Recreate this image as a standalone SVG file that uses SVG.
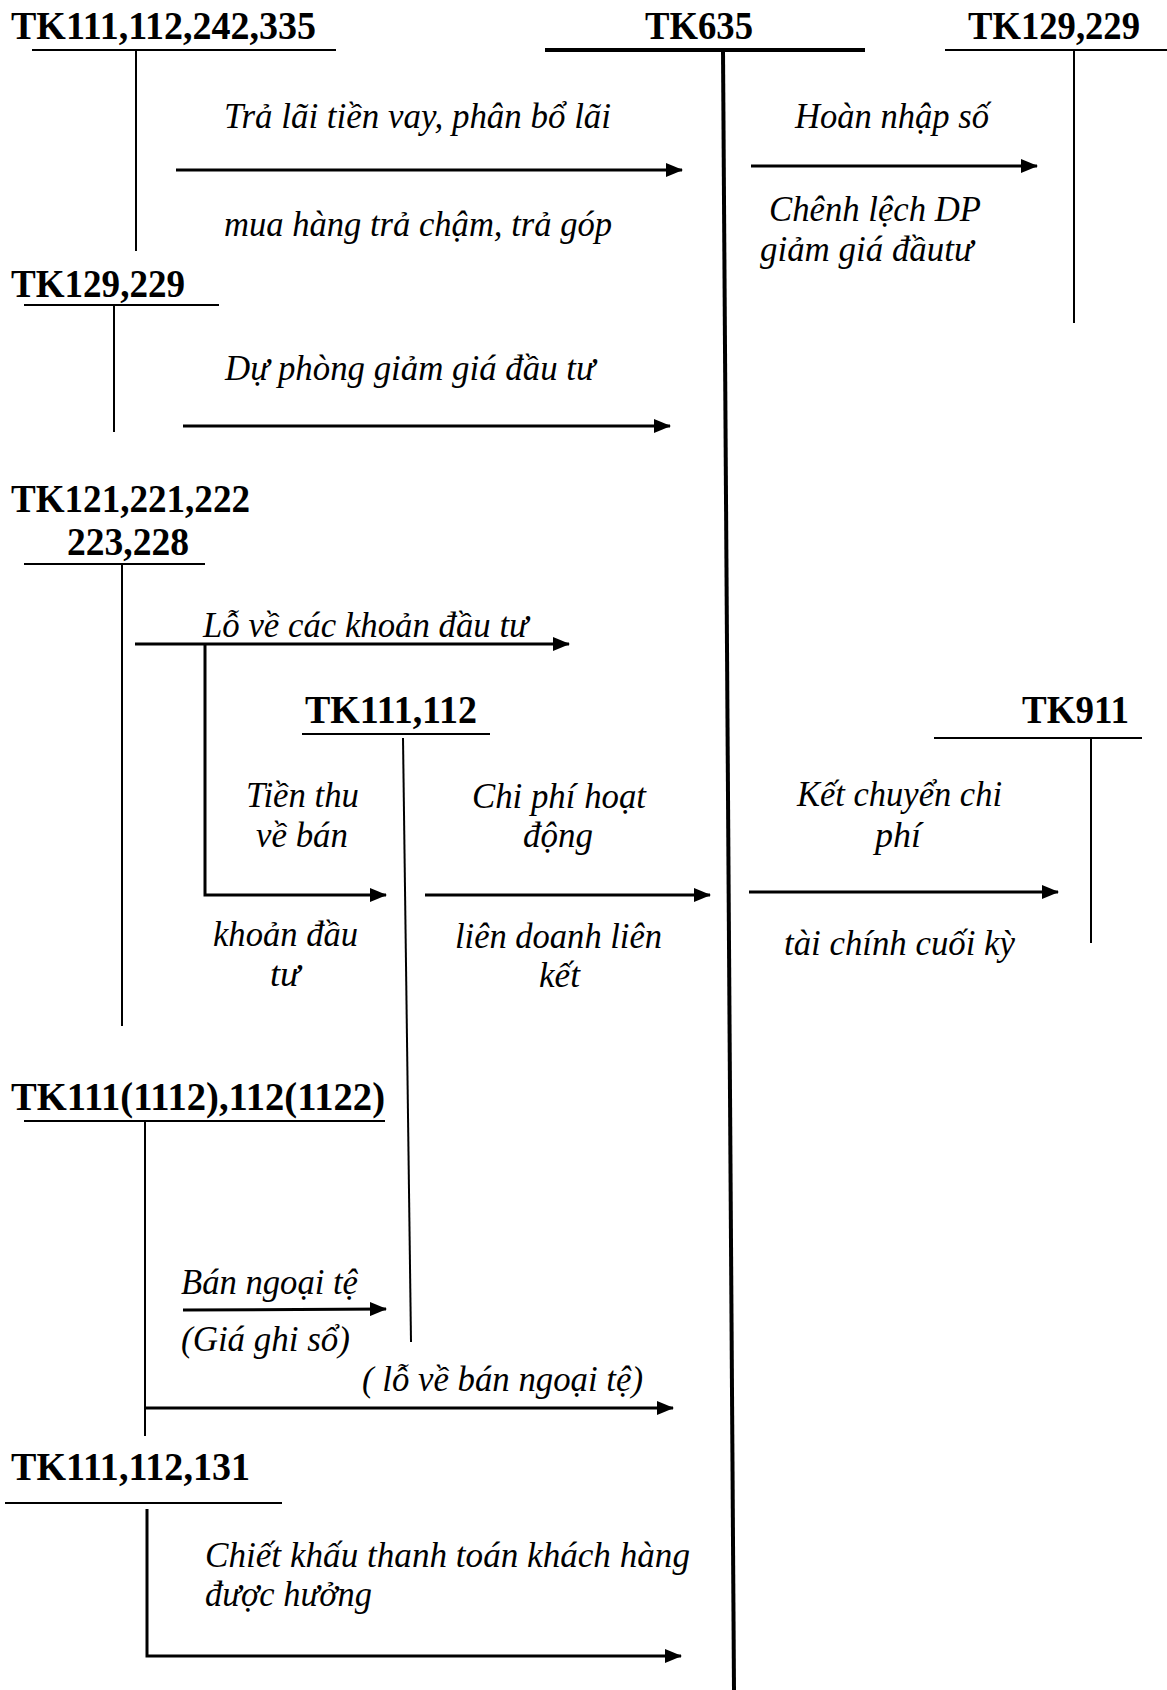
<svg xmlns="http://www.w3.org/2000/svg" width="1167" height="1690" viewBox="0 0 1167 1690">
<style>
.h{font-family:"Liberation Serif","Times New Roman",serif;font-weight:bold;font-size:39px;fill:#000}
.t{font-family:"Liberation Serif","Times New Roman",serif;font-style:italic;font-size:35px;fill:#000}
.ln{stroke:#000;stroke-width:2;fill:none}
.tk{stroke:#000;stroke-width:4;fill:none}
.ar{stroke:#000;stroke-width:3;fill:none;marker-end:url(#ah)}
</style>
<defs>
<marker id="ah" markerUnits="userSpaceOnUse" markerWidth="17" markerHeight="14" refX="16" refY="7" orient="auto">
<path d="M0,0 L17,7 L0,14 z" fill="#000"/>
</marker>
</defs>
<rect width="1167" height="1690" fill="#fff"/>

<g id="tk111-112-242-335">
<text class="h" x="11" y="39" textLength="305" lengthAdjust="spacingAndGlyphs">TK111,112,242,335</text>
<line class="ln" x1="32" y1="50" x2="336" y2="50"/>
<line class="ln" x1="136" y1="51" x2="136" y2="251"/>
</g>
<g id="tk635">
<text class="h" x="645" y="39" textLength="108" lengthAdjust="spacingAndGlyphs">TK635</text>
<line class="tk" x1="545" y1="50" x2="865" y2="50"/>
<line class="tk" x1="723" y1="50" x2="734" y2="1690"/>
</g>
<g id="tk129-229-right">
<text class="h" x="968" y="39" textLength="172" lengthAdjust="spacingAndGlyphs">TK129,229</text>
<line class="ln" x1="945" y1="50" x2="1167" y2="50"/>
<line class="ln" x1="1074" y1="51" x2="1074" y2="323"/>
</g>
<g id="tk129-229-left">
<text class="h" x="11" y="297" textLength="174" lengthAdjust="spacingAndGlyphs">TK129,229</text>
<line class="ln" x1="24" y1="305" x2="219" y2="305"/>
<line class="ln" x1="114" y1="306" x2="114" y2="432"/>
</g>
<g id="tk121-221-222-223-228">
<text class="h" x="11" y="512" textLength="239" lengthAdjust="spacingAndGlyphs">TK121,221,222</text>
<text class="h" x="67" y="555" textLength="122" lengthAdjust="spacingAndGlyphs">223,228</text>
<line class="ln" x1="24" y1="564" x2="205" y2="564"/>
<line class="ln" x1="122" y1="565" x2="122" y2="1026"/>
</g>
<g id="tk111-112">
<text class="h" x="305" y="723" textLength="172" lengthAdjust="spacingAndGlyphs">TK111,112</text>
<line class="ln" x1="302" y1="734" x2="490" y2="734"/>
<line class="ln" x1="403" y1="738" x2="411" y2="1342"/>
</g>
<g id="tk911">
<text class="h" x="1022" y="723" textLength="107" lengthAdjust="spacingAndGlyphs">TK911</text>
<line class="ln" x1="934" y1="738" x2="1142" y2="738"/>
<line class="ln" x1="1091" y1="739" x2="1091" y2="943"/>
</g>
<g id="tk111-1112-112-1122">
<text class="h" x="11" y="1110" textLength="374" lengthAdjust="spacingAndGlyphs">TK111(1112),112(1122)</text>
<line class="ln" x1="24" y1="1121" x2="385" y2="1121"/>
<line class="ln" x1="145" y1="1122" x2="145" y2="1436"/>
</g>
<g id="tk111-112-131">
<text class="h" x="11" y="1480" textLength="239" lengthAdjust="spacingAndGlyphs">TK111,112,131</text>
<line class="ln" x1="5" y1="1503" x2="282" y2="1503"/>
</g>

<g id="connectors">
<line class="ar" x1="176" y1="170" x2="682" y2="170"/>
<line class="ar" x1="751" y1="166" x2="1037" y2="166"/>
<line class="ar" x1="183" y1="426" x2="670" y2="426"/>
<line class="ar" x1="135" y1="644" x2="569" y2="644"/>
<polyline class="ar" points="205,644 205,895 386,895"/>
<line class="ar" x1="425" y1="895" x2="710" y2="895"/>
<line class="ar" x1="749" y1="892" x2="1058" y2="892"/>
<line class="ar" x1="183" y1="1310" x2="386" y2="1309"/>
<line class="ar" x1="145" y1="1408" x2="673" y2="1408"/>
<polyline class="ar" points="147,1509 147,1656 681,1656"/>
</g>

<g id="labels">
<text class="t" x="224" y="128" textLength="387" lengthAdjust="spacingAndGlyphs">Trả lãi tiền vay, phân bổ lãi</text>
<text class="t" x="224" y="236" textLength="388" lengthAdjust="spacingAndGlyphs">mua hàng trả chậm, trả góp</text>
<text class="t" x="795" y="128" textLength="194" lengthAdjust="spacingAndGlyphs">Hoàn nhập số</text>
<text class="t" x="769" y="221" textLength="212" lengthAdjust="spacingAndGlyphs">Chênh lệch DP</text>
<text class="t" x="760" y="261" textLength="213" lengthAdjust="spacingAndGlyphs">giảm giá đầutư</text>
<text class="t" x="225" y="380" textLength="370" lengthAdjust="spacingAndGlyphs">Dự phòng giảm giá đầu tư</text>
<text class="t" x="203" y="637" textLength="325" lengthAdjust="spacingAndGlyphs">Lỗ về các khoản đầu tư</text>
<text class="t" x="246" y="807" textLength="113" lengthAdjust="spacingAndGlyphs">Tiền thu</text>
<text class="t" x="256" y="847" textLength="92" lengthAdjust="spacingAndGlyphs">về bán</text>
<text class="t" x="213" y="946" textLength="145" lengthAdjust="spacingAndGlyphs">khoản đầu</text>
<text class="t" x="270" y="986" textLength="30" lengthAdjust="spacingAndGlyphs">tư</text>
<text class="t" x="472" y="808" textLength="174" lengthAdjust="spacingAndGlyphs">Chi phí hoạt</text>
<text class="t" x="523" y="847" textLength="70" lengthAdjust="spacingAndGlyphs">động</text>
<text class="t" x="455" y="948" textLength="207" lengthAdjust="spacingAndGlyphs">liên doanh liên</text>
<text class="t" x="539" y="987" textLength="41" lengthAdjust="spacingAndGlyphs">kết</text>
<text class="t" x="797" y="806" textLength="205" lengthAdjust="spacingAndGlyphs">Kết chuyển chi</text>
<text class="t" x="875" y="847" textLength="46" lengthAdjust="spacingAndGlyphs">phí</text>
<text class="t" x="784" y="955" textLength="231" lengthAdjust="spacingAndGlyphs">tài chính cuối kỳ</text>
<text class="t" x="181" y="1294" textLength="177" lengthAdjust="spacingAndGlyphs">Bán ngoại tệ</text>
<text class="t" x="181" y="1351" textLength="169" lengthAdjust="spacingAndGlyphs">(Giá ghi sổ)</text>
<text class="t" x="362" y="1391" textLength="281" lengthAdjust="spacingAndGlyphs">( lỗ về bán ngoại tệ)</text>
<text class="t" x="205" y="1567" textLength="485" lengthAdjust="spacingAndGlyphs">Chiết khấu thanh toán khách hàng</text>
<text class="t" x="205" y="1606" textLength="167" lengthAdjust="spacingAndGlyphs">được hưởng</text>
</g>
</svg>
